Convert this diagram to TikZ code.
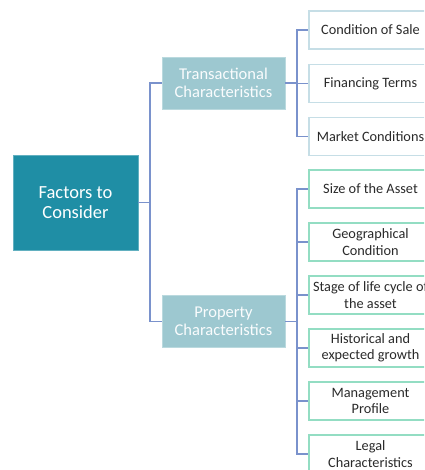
\documentclass[tikz,border=0pt]{standalone}
\usepackage{fontspec}
\setmainfont{Carlito}
\definecolor{maincol}{HTML}{1F8EA5}
\definecolor{midcol}{HTML}{9DC8D0}
\definecolor{conncol}{HTML}{7A92CC}
\definecolor{tborder}{HTML}{C6DEE6}
\definecolor{pborder}{HTML}{93DDC3}
\definecolor{txtcol}{HTML}{2A2A2A}
\begin{document}
\begin{tikzpicture}[x=1pt,y=-1pt,
  mainbox/.style={rectangle, fill=maincol, draw=maincol!70!white, line width=0.8pt, inner sep=0pt,
    minimum width=125pt, minimum height=95pt, align=center, text=white,
    font=\fontsize{18.5}{20.5}\selectfont},
  midbox/.style={rectangle, fill=midcol, draw=midcol!70!white, line width=0.8pt, inner sep=0pt,
    minimum width=123pt, minimum height=52pt, align=center, text=white!95!midcol,
    font=\fontsize{16.5}{18}\selectfont},
  leafbox/.style={rectangle, fill=white, line width=1.3pt, inner sep=0pt,
    minimum width=123pt, minimum height=38pt, align=center, text=txtcol,
    font=\fontsize{14.3}{16.5}\selectfont},
  tleaf/.style={leafbox, draw=tborder},
  pleaf/.style={leafbox, draw=pborder},
  conn/.style={draw=conncol, line width=1.2pt}]
\useasboundingbox (0,0) rectangle (424,470);
\clip (0,0) rectangle (424,470);

\node[mainbox] (main) at (75.5,202.5) {Factors to\\Consider};
\node[midbox] (trans) at (223.5,83) {Transactional\\Characteristics};
\node[midbox] (prop) at (223.5,321.5) {Property\\Characteristics};

\node[tleaf] (t1) at (370.5,30) {Condition of Sale};
\node[tleaf] (t2) at (370.5,83.5) {Financing Terms};
\node[tleaf] (t3) at (370.5,136.5) {Market Conditions};

\node[pleaf] (p1) at (370.5,189) {Size of the Asset};
\node[pleaf] (p2) at (370.5,242) {Geographical\\Condition};
\node[pleaf] (p3) at (370.5,295) {Stage of life cycle of\\the asset};
\node[pleaf] (p4) at (370.5,348) {Historical and\\expected growth};
\node[pleaf] (p5) at (370.5,401) {Management\\Profile};
\node[pleaf] (p6) at (370.5,454) {Legal\\Characteristics};

\coordinate (b1) at (150,202.5);
\coordinate (b2) at (297,83);
\coordinate (b3) at (297,321.5);

\draw[conn] (main.east) -- (b1);
\draw[conn] (b1) |- (trans.west);
\draw[conn] (b1) |- (prop.west);

\draw[conn] (trans.east) -- (b2);
\foreach \n in {t1,t2,t3} \draw[conn] (b2) |- (\n.west);

\draw[conn] (prop.east) -- (b3);
\foreach \n in {p1,p2,p3,p4,p5,p6} \draw[conn] (b3) |- (\n.west);
\end{tikzpicture}
\end{document}
